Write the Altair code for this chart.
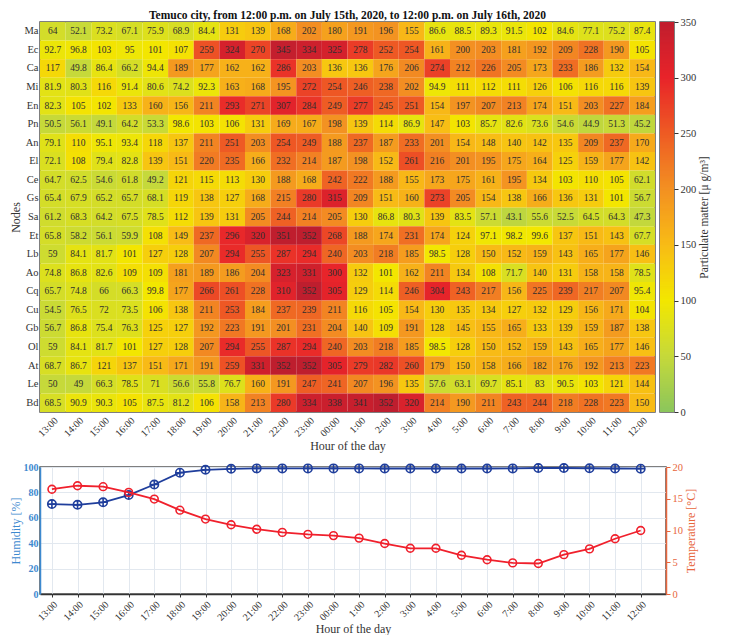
import altair as alt
import pandas as pd

hours = ["13:00", "14:00", "15:00", "16:00", "17:00", "18:00", "19:00", "20:00",
         "21:00", "22:00", "23:00", "00:00", "1:00", "2:00", "3:00", "4:00",
         "5:00", "6:00", "7:00", "8:00", "9:00", "10:00", "11:00", "12:00"]
nodes = ["Ma", "Ec", "Ca", "Mi", "En", "Pn", "An", "El", "Ce", "Gs", "Sa",
         "Et", "Lb", "Ao", "Cq", "Cu", "Gb", "Ol", "At", "Le", "Bd"]

ma = [64, 52.1, 73.2, 67.1, 75.9, 68.9, 84.4, 131, 139, 168, 202, 180, 191, 196, 155, 86.6, 88.5, 89.3, 91.5, 102, 84.6, 77.1, 75.2, 87.4]
ec = [92.7, 96.8, 103, 95, 101, 107, 259, 324, 270, 345, 334, 325, 278, 252, 254, 161, 200, 203, 181, 192, 209, 228, 190, 105]
ca = [117, 49.8, 86.4, 66.2, 94.4, 189, 177, 162, 162, 286, 203, 136, 136, 176, 206, 274, 212, 226, 205, 173, 233, 186, 132, 154]
mi = [81.9, 80.3, 116, 91.4, 80.6, 74.2, 92.3, 163, 168, 195, 272, 254, 246, 238, 202, 94.9, 111, 112, 111, 126, 106, 116, 116, 139]
en = [82.3, 105, 102, 133, 160, 156, 211, 293, 271, 307, 284, 249, 277, 245, 251, 154, 197, 207, 213, 174, 151, 203, 227, 184]
pn = [50.5, 56.1, 49.1, 64.2, 53.3, 98.6, 103, 106, 131, 169, 167, 198, 139, 114, 86.9, 147, 103, 85.7, 82.6, 73.6, 54.6, 44.9, 51.3, 45.2]
an = [79.1, 110, 95.1, 93.4, 118, 137, 211, 251, 203, 254, 249, 188, 237, 187, 233, 201, 154, 148, 140, 142, 135, 209, 237, 170]
el = [72.1, 108, 79.4, 82.8, 139, 151, 220, 235, 166, 232, 214, 187, 198, 152, 261, 216, 201, 195, 175, 164, 125, 159, 177, 142]
ce = [64.7, 62.5, 54.6, 61.8, 49.2, 121, 115, 113, 130, 188, 168, 242, 222, 188, 155, 173, 175, 161, 195, 134, 103, 110, 105, 62.1]
gs = [65.4, 67.9, 65.2, 65.7, 68.1, 119, 138, 127, 168, 215, 280, 315, 209, 151, 160, 273, 205, 154, 138, 166, 136, 131, 101, 56.7]
sa = [61.2, 68.3, 64.2, 67.5, 78.5, 112, 139, 131, 205, 244, 214, 205, 130, 86.8, 80.3, 139, 83.5, 57.1, 43.1, 55.6, 52.5, 64.5, 64.3, 47.3]
et = [65.8, 58.2, 56.1, 59.9, 108, 149, 237, 296, 320, 351, 352, 268, 188, 174, 231, 174, 124, 97.1, 98.2, 99.6, 137, 151, 143, 67.7]
lb = [59, 84.1, 81.7, 101, 127, 128, 207, 294, 255, 287, 294, 240, 203, 218, 185, 98.5, 128, 150, 152, 159, 143, 165, 177, 146]
ao = [74.8, 86.8, 82.6, 109, 109, 181, 189, 186, 204, 323, 331, 300, 132, 101, 162, 211, 134, 108, 71.7, 140, 131, 158, 158, 78.5]
cq = [65.7, 74.8, 66, 66.3, 99.8, 177, 266, 261, 228, 310, 352, 305, 129, 114, 246, 304, 243, 217, 156, 225, 239, 217, 207, 95.4]
cu = [54.5, 76.5, 72, 73.5, 106, 138, 211, 253, 184, 237, 239, 211, 116, 105, 154, 130, 135, 134, 127, 132, 129, 156, 171, 104]
gb = [56.7, 86.8, 75.4, 76.3, 125, 127, 192, 223, 191, 201, 231, 204, 140, 109, 191, 128, 145, 155, 165, 133, 139, 159, 187, 138]
ol = [59, 84.1, 81.7, 101, 127, 128, 207, 294, 255, 287, 294, 240, 203, 218, 185, 98.5, 128, 150, 152, 159, 143, 165, 177, 146]
at = [68.7, 86.7, 121, 137, 151, 171, 191, 259, 331, 352, 352, 305, 279, 282, 260, 179, 150, 158, 166, 182, 176, 192, 213, 223]
le = [50, 49, 66.3, 78.5, 71, 56.6, 55.8, 76.7, 160, 191, 247, 241, 207, 196, 135, 57.6, 63.1, 69.7, 85.1, 83, 90.5, 103, 121, 144]
bd = [68.5, 90.9, 90.3, 105, 87.5, 81.2, 106, 158, 213, 280, 334, 338, 341, 352, 320, 214, 190, 211, 243, 244, 218, 228, 223, 150]

pm_rows = [ma, ec, ca, mi, en, pn, an, el, ce, gs, sa, et, lb, ao, cq, cu, gb, ol, at, le, bd]

humidity = [70.8, 70.2, 72.2, 77.9, 86.2, 95.5, 97.8, 98.6, 98.9, 98.9, 98.9, 98.9, 98.9,
            98.8, 98.8, 98.8, 98.8, 98.8, 98.9, 99.2, 99.2, 99.0, 98.8, 98.7]
temperature = [16.5, 17.05, 16.9, 16.0, 14.95, 13.2, 11.8, 10.9, 10.2, 9.7, 9.4, 9.2, 8.8,
               7.95, 7.2, 7.2, 6.1, 5.4, 4.9, 4.8, 6.2, 7.1, 8.7, 10.0]

pm_ticks = [0, 50, 100, 150, 200, 250, 300, 350]
pm_colors = ["#8cc65c", "#c6d93a", "#f3e700", "#f8bb16", "#f39022", "#ee5b24", "#e8242a", "#c01e2e"]

FONT = "Liberation Serif"

records = []
for n, row in zip(nodes, pm_rows):
    for h, v in zip(hours, row):
        records.append({"node": n, "hour": h, "pm": v, "label": f"{v:g}"})
df = pd.DataFrame(records)

color_scale = alt.Scale(domain=pm_ticks, range=pm_colors, interpolate="rgb")

xh = alt.X("hour:N", sort=hours, title="Hour of the day",
           scale=alt.Scale(paddingInner=0, paddingOuter=0),
           axis=alt.Axis(labelAngle=315, ticks=False, domain=False, labelFontSize=10,
                         labelPadding=3, titleFontSize=12, titlePadding=2))
yh = alt.Y("node:N", sort=nodes, title="Nodes",
           scale=alt.Scale(paddingInner=0, paddingOuter=0),
           axis=alt.Axis(ticks=False, domain=False, labelFontSize=10.5, labelPadding=2,
                         titleFontSize=12, titlePadding=2))

base = alt.Chart(df)
rect = base.mark_rect().encode(
    x=xh, y=yh,
    color=alt.Color("pm:Q", scale=color_scale, legend=None),
)
text = base.mark_text(font=FONT, fontSize=9.5, color="#2e2e2e").encode(
    x=xh, y=yh, text="label:N"
)
heat = alt.layer(rect, text).properties(
    width=615, height=390,
    title=alt.Title("Temuco city, from 12:00 p.m. on July 15th, 2020, to 12:00 p.m. on July 16th, 2020",
                    font=FONT, fontSize=11.5, fontWeight="bold", color="#111", offset=1),
)

cbar = alt.Chart(alt.sequence(0, 350, 1, as_="v")).transform_calculate(
    v2="datum.v + 1.8"
).mark_rect(strokeWidth=0).encode(
    y=alt.Y("v:Q", scale=alt.Scale(domain=[0, 350], nice=False, clamp=True),
            axis=alt.Axis(orient="right", values=pm_ticks, title="Particulate matter [μ g/m³]",
                          titleAngle=270, titleBaseline="top", titleFontSize=11.5,
                          labelFontSize=10.5, tickSize=4, tickColor="#333", domain=False,
                          grid=False, titlePadding=3, labelPadding=2)),
    y2="v2:Q",
    color=alt.Color("v:Q", scale=color_scale, legend=None),
).properties(width=14, height=390)

df2 = pd.DataFrame({"hour": hours, "hum": humidity, "temp": temperature})

xb = alt.X("hour:N", sort=hours, title="Hour of the day",
           scale=alt.Scale(type="point", padding=0.727, align=0.32),
           axis=alt.Axis(labelAngle=315, grid=True, gridColor="#e2e8ef", tickColor="#333",
                         tickSize=3, domainColor="#333", domainWidth=1.5, labelFontSize=10,
                         labelPadding=2, titleFontSize=12, titlePadding=1))

hum_y = alt.Y("hum:Q", scale=alt.Scale(domain=[0, 100]),
              axis=alt.Axis(orient="left", values=[0, 20, 40, 60, 80, 100], title="Humidity [%]",
                            labelColor="#3d89cf", titleColor="#3d89cf", domainColor="#3d89cf",
                            domainWidth=1.5, labelFontWeight="bold", ticks=False,
                            labelFontSize=10, labelPadding=2, titleFontSize=12,
                            titlePadding=1, gridColor="#e2e8ef"))
temp_y = alt.Y("temp:Q", scale=alt.Scale(domain=[0, 20]),
               axis=alt.Axis(orient="right", values=[0, 5, 10, 15, 20], title="Temperature [°C]",
                             labelColor="#e8663c", titleColor="#e8663c", domainColor="#e8663c",
                             tickColor="#e8663c", domainWidth=1.5, grid=False,
                             titleAngle=270, titleBaseline="top",
                             labelFontSize=10.5, titleFontSize=12, tickSize=4, labelPadding=2,
                             titlePadding=3))

circle_plus = "M-1,0A1,1,0,1,1,1,0A1,1,0,1,1,-1,0ZM-1,0L1,0M0,-1L0,1"
HUM_C = "#1f3e9c"
TEMP_C = "#f0202c"

bchart = alt.Chart(df2)
hum_layer = alt.layer(
    bchart.mark_line(color=HUM_C, strokeWidth=1.8).encode(x=xb, y=hum_y),
    bchart.mark_point(shape=circle_plus, size=70, color=HUM_C, filled=False, strokeWidth=1.6,
                      opacity=1).encode(x=xb, y=hum_y),
)
temp_layer = alt.layer(
    bchart.mark_line(color=TEMP_C, strokeWidth=1.8).encode(x=xb, y=temp_y),
    bchart.mark_point(shape="circle", size=60, color=TEMP_C, filled=False, strokeWidth=1.6,
                      opacity=1).encode(x=xb, y=temp_y),
)
bottom = alt.layer(hum_layer, temp_layer).resolve_scale(y="independent").properties(
    width=626, height=127
)

chart = alt.vconcat(
    alt.hconcat(heat, cbar, spacing=3),
    bottom,
    spacing=7,
).properties(
    padding={"left": 0, "top": 0, "right": 5, "bottom": 0}
).configure(
    font=FONT
).configure_axis(
    labelFont=FONT, titleFont=FONT, labelColor="#333", titleColor="#333",
    titleFontWeight="normal"
).configure_view(
    stroke="#555", strokeWidth=1.5
)

chart.save("out.html", embed_options={"renderer": "svg", "actions": False})
